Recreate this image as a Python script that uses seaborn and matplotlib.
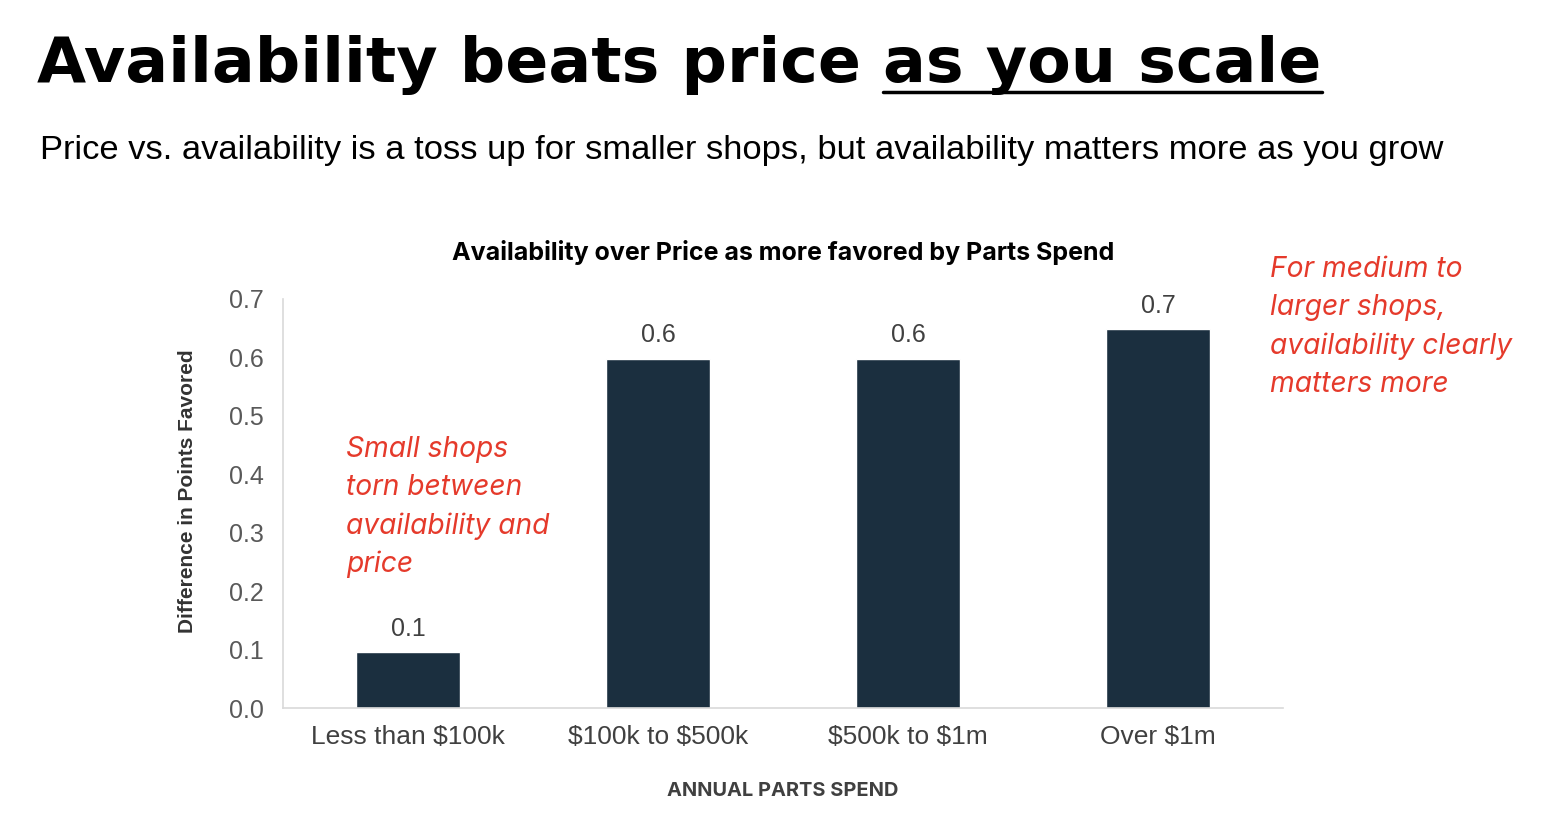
import seaborn as sns
import matplotlib.pyplot as plt
import pandas as pd
from matplotlib.lines import Line2D

spend_bands = ["Less than $100k", "$100k to $500k", "$500k to $1m", "Over $1m"]
points_diff = [0.096, 0.598, 0.598, 0.649]
value_labels = ["0.1", "0.6", "0.6", "0.7"]
yticks = [0.0, 0.1, 0.2, 0.3, 0.4, 0.5, 0.6, 0.7]

df = pd.DataFrame({"band": spend_bands, "diff": points_diff})

sns.set_theme(style="white")
plt.rcParams['font.family'] = ['Liberation Sans', 'DejaVu Sans']
plt.rcParams['text.parse_math'] = False

W, H = 1554, 814
fig = plt.figure(figsize=(W / 100, H / 100), dpi=100)
ax = fig.add_axes([283 / W, 1 - 708 / H, 1000 / W, 409 / H])

sns.barplot(data=df, x="band", y="diff", color="#1B2F3F", width=0.415,
            saturation=1, ax=ax)

ax.set_ylim(0, 0.7)
ax.set_yticks(yticks)
ax.set_yticklabels([f"{t:.1f}" for t in yticks])
ax.tick_params(axis="y", labelsize=18, labelcolor="#595959", length=0, pad=14)
ax.tick_params(axis="x", labelsize=19, labelcolor="#404040", length=0, pad=12)
for s in ["top", "right"]:
    ax.spines[s].set_visible(False)
ax.spines["left"].set_color("#D9D9D9")
ax.spines["bottom"].set_color("#D9D9D9")
ax.spines["left"].set_linewidth(1.2)
ax.spines["bottom"].set_linewidth(1.2)

for p, lab in zip(ax.patches, value_labels):
    ax.annotate(lab, (p.get_x() + p.get_width() / 2, p.get_height()),
                xytext=(0, 8), textcoords="offset points",
                ha="center", va="bottom", fontsize=18, color="#404040")

ax.set_xlabel("ANNUAL PARTS SPEND", fontsize=14.4, fontweight="bold",
              color="#404040", family=["Inter", "DejaVu Sans"], labelpad=24)
ax.set_ylabel("Difference in Points Favored", fontsize=15, fontweight="bold",
              color="#333333")
ax.yaxis.set_label_coords(-0.086, 0.53)
ax.set_title("Availability over Price as more favored by Parts Spend",
             fontsize=18, fontweight="bold", color="black",
             family=["Inter", "DejaVu Sans"], pad=28)

red = "#E53A2B"
fig.text(346 / W, 1 - 436 / H, "Small shops\ntorn between\navailability and\nprice",
         fontsize=20.3, style="italic", color=red, va="top", ha="left",
         linespacing=1.52, family=["Inter", "DejaVu Sans"])
fig.text(1270 / W, 1 - 256 / H, "For medium to\nlarger shops,\navailability clearly\nmatters more",
         fontsize=20.3, style="italic", color=red, va="top", ha="left",
         linespacing=1.52, family=["Inter", "DejaVu Sans"])

# headline with underlined ending, fitted to the reference width
head_family = ["DejaVu Sans"]
t1 = fig.text(37 / W, 1 - 82 / H, "Availability beats price ", fontsize=50,
              fontweight="bold", color="black", family=head_family, va="baseline")
t2 = fig.text(0, 1 - 82 / H, "as you scale", fontsize=50,
              fontweight="bold", color="black", family=head_family, va="baseline")
fig.canvas.draw()
r = fig.canvas.get_renderer()
w_total = t1.get_window_extent(r).width + t2.get_window_extent(r).width
fs = 50 * 1285 / w_total
t1.set_fontsize(fs)
t2.set_fontsize(fs)
fig.canvas.draw()
bb = t1.get_window_extent(r)
t2.set_x(bb.x1 / W)
fig.canvas.draw()
bb2 = t2.get_window_extent(r)
fig.add_artist(Line2D([bb2.x0 / W, bb2.x1 / W], [1 - 92 / H, 1 - 92 / H],
                      color="black", lw=2.5, transform=fig.transFigure))

fig.text(40 / W, 1 - 159 / H,
         "Price vs. availability is a toss up for smaller shops, but availability matters more as you grow",
         fontsize=24.8, color="black", va="baseline")

fig.savefig("out.png", dpi=100)
